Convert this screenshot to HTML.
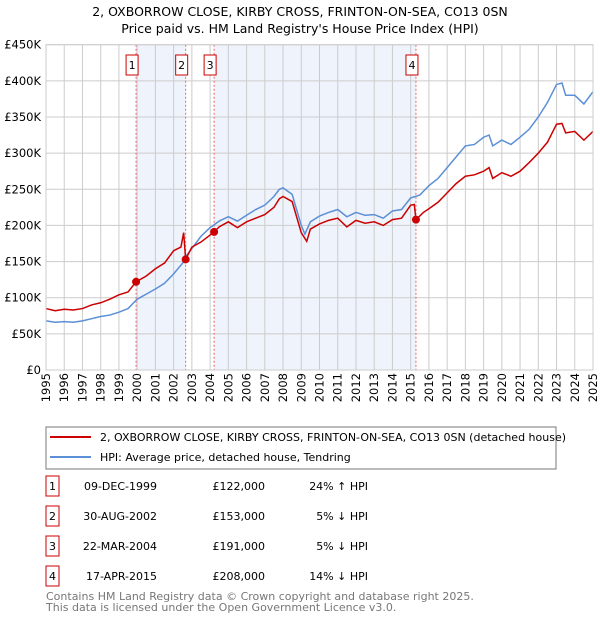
<!DOCTYPE html>
<html><head><meta charset="utf-8"><style>
body{margin:0;background:#fff;font-family:"Liberation Sans","DejaVu Sans",sans-serif}
svg text{font-family:"DejaVu Sans","Liberation Sans",sans-serif}
</style></head><body>
<svg id="c" width="600" height="620">
<text x="300" y="16" text-anchor="middle" font-size="12.5">2, OXBORROW CLOSE, KIRBY CROSS, FRINTON-ON-SEA, CO13 0SN</text>
<text x="300" y="33" text-anchor="middle" font-size="12.5">Price paid vs. HM Land Registry's House Price Index (HPI)</text>
<g id="plot"></g>
<rect x="46" y="427" width="510" height="42" fill="none" stroke="#777"/>
<line x1="50" y1="437" x2="91" y2="437" stroke="#cc0000" stroke-width="2"/>
<text x="100" y="441" font-size="11">2, OXBORROW CLOSE, KIRBY CROSS, FRINTON-ON-SEA, CO13 0SN (detached house)</text>
<line x1="50" y1="457" x2="91" y2="457" stroke="#5b8fd6" stroke-width="2"/>
<text x="100" y="461" font-size="11">HPI: Average price, detached house, Tendring</text>
<g id="table" font-size="11"></g>
<text x="46" y="600" font-size="11" fill="#777">Contains HM Land Registry data © Crown copyright and database right 2025.</text>
<text x="46" y="611" font-size="11" fill="#777">This data is licensed under the Open Government Licence v3.0.</text>
</svg>
<script>
const hpiT=[1995,1995.5,1996,1996.5,1997,1997.5,1998,1998.5,1999,1999.5,2000,2000.5,2001,2001.5,2002,2002.5,2002.7,2003,2003.5,2004,2004.5,2005,2005.5,2006,2006.5,2007,2007.5,2007.8,2008,2008.5,2009,2009.2,2009.5,2010,2010.5,2011,2011.5,2012,2012.5,2013,2013.5,2014,2014.5,2015,2015.5,2016,2016.5,2017,2017.5,2018,2018.5,2019,2019.3,2019.5,2020,2020.5,2021,2021.5,2022,2022.5,2023,2023.3,2023.5,2024,2024.5,2025];
const hpiV=[68,66,67,66,68,71,74,76,80,85,98,105,112,120,133,148,158,168,185,197,206,212,206,214,222,228,240,250,252,243,200,188,205,213,218,222,212,218,214,215,210,220,222,238,242,255,265,280,295,310,312,322,325,310,318,312,322,333,350,370,395,397,380,380,368,385];
const priceT=[1995,1995.5,1996,1996.5,1997,1997.5,1998,1998.5,1999,1999.5,1999.94,2000.5,2001,2001.5,2002,2002.4,2002.55,2002.66,2003,2003.5,2004.22,2004.5,2005,2005.5,2006,2006.5,2007,2007.5,2007.8,2008,2008.5,2009,2009.3,2009.5,2010,2010.5,2011,2011.5,2012,2012.5,2013,2013.5,2014,2014.5,2015,2015.2,2015.29,2015.7,2016,2016.5,2017,2017.5,2018,2018.5,2019,2019.3,2019.5,2020,2020.5,2021,2021.5,2022,2022.5,2023,2023.3,2023.5,2024,2024.5,2025];
const priceV=[85,82,84,83,85,90,93,98,104,108,122,130,140,148,165,170,190,153,170,177,191,198,205,197,205,210,215,225,237,240,233,190,178,195,202,207,210,198,207,203,205,200,208,210,228,229,208,218,223,232,245,258,268,270,275,280,265,273,268,275,287,300,315,340,341,328,330,318,330];
const saleT=[1999.94,2002.66,2004.22,2015.29];
const saleV=[122,153,191,208];
const saleLabels=["1","2","3","4"];
const saleDates=["09-DEC-1999","30-AUG-2002","22-MAR-2004","17-APR-2015"];
const salePrices=["£122,000","£153,000","£191,000","£208,000"];
const saleHpi=["24% ↑ HPI","5% ↓ HPI","5% ↓ HPI","14% ↓ HPI"];
const yTicks=[0,50,100,150,200,250,300,350,400,450];
const yTickLabels=["£0","£50K","£100K","£150K","£200K","£250K","£300K","£350K","£400K","£450K"];
const years=[];for(let y=1995;y<=2025;y++)years.push(y);

const NS="http://www.w3.org/2000/svg";
const X0=46,X1=593,Y0=370,Y1=44.7;
const xs=t=>X0+(t-1995)/30*(X1-X0);
const ys=v=>Y0-v/450*(Y0-Y1);
const g=document.getElementById('plot');
function mk(tag,attrs,parent){const e=document.createElementNS(NS,tag);for(const k in attrs)e.setAttribute(k,attrs[k]);(parent||g).appendChild(e);return e;}
// shading
[[0,1],[2,3]].forEach(([a,b],i)=>{
 const r=mk('rect',{x:xs(saleT[a]),y:Y1,width:xs(saleT[b])-xs(saleT[a]),height:Y0-Y1,fill:'#eef3fc'});
 
 
});
years.forEach(y=>{
 const l=mk('line',{x1:xs(y),x2:xs(y),y1:Y1,y2:Y0,stroke:'#ccc','stroke-width':1});
 
 
 const t=mk('text',{x:0,y:0,'font-size':11.5,'text-anchor':'end',transform:`translate(${xs(y)+4},${Y0+3}) rotate(-90)`});
 t.textContent=y;
 
 
});
yTicks.forEach((v,i)=>{
 const l=mk('line',{x1:X0,x2:X1,y1:ys(v),y2:ys(v),stroke:'#ccc','stroke-width':1});
 
 
 const t=mk('text',{x:X0-5,y:ys(v)+4,'font-size':11.5,'text-anchor':'end'});
 t.textContent=yTickLabels[i];
 
 
});
saleT.forEach((t,i)=>{
 const l=mk('line',{x1:xs(t),x2:xs(t),y1:Y1,y2:Y0,stroke:'#e66','stroke-width':1,'stroke-dasharray':'2,2'});
 
 
});
function poly(T,V,col,name){
 const p=mk('polyline',{points:T.map((t,i)=>xs(t)+','+ys(V[i])).join(' '),fill:'none',stroke:col,'stroke-width':1.5});
 
 
}
poly(hpiT,hpiV,'#5b8fd6','hpi-line');
poly(priceT,priceV,'#cc0000','price-line');
saleT.forEach((t,i)=>{
 const c=mk('circle',{cx:xs(t),cy:ys(saleV[i]),r:4,fill:'#cc0000'});
 
 
 const r=mk('rect',{x:xs(t)-10,y:55,width:12,height:20,fill:'#fff',stroke:'#cc0000'});
 
 
 const tx=mk('text',{x:xs(t)-4,y:69,'font-size':11,'text-anchor':'middle'});
 tx.textContent=saleLabels[i];
 
 
});
const ax=mk('rect',{x:X0,y:Y1,width:X1-X0,height:Y0-Y1,fill:'none',stroke:'#ccc'});


const tb=document.getElementById('table');
saleLabels.forEach((s,i)=>{
 const y=486+i*30;
 const r=mk('rect',{x:46,y:y-10,width:13,height:20,fill:'#fff',stroke:'#cc0000'},tb);
 
 
 const cols=[[52.5,s,'middle'],[157,saleDates[i],'end'],[265,salePrices[i],'end'],[368,saleHpi[i],'end']];
 cols.forEach(([x,txt,a],j)=>{
  const t=mk('text',{x:x,y:y+4,'text-anchor':a},tb);
  t.textContent=txt;
  
  
 });
});
</script>
</body></html>
